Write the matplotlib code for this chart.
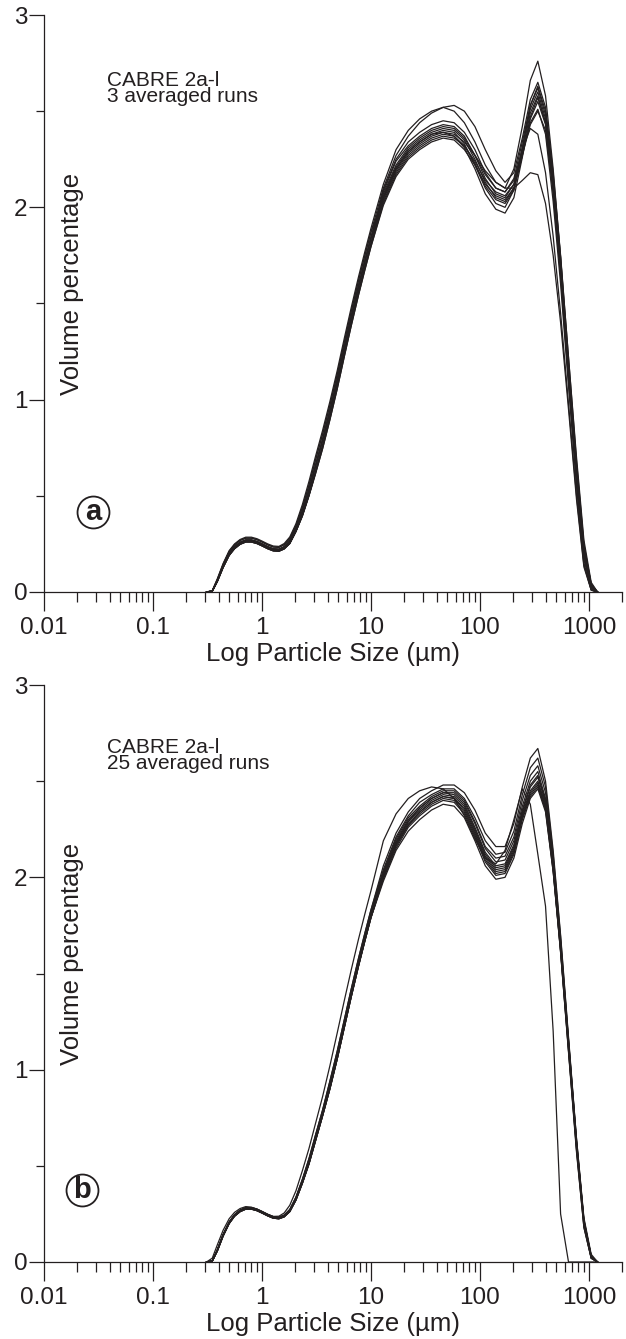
import matplotlib
matplotlib.use("Agg")
import matplotlib.pyplot as plt
from matplotlib.ticker import LogLocator, NullFormatter, FixedLocator

plt.rcParams['font.family'] = ['Liberation Sans', 'DejaVu Sans']

# particle size bins (µm)
X_UM = [0.31, 0.35, 0.39, 0.44, 0.5, 0.56, 0.63, 0.71, 0.8, 0.9, 1.0, 1.13, 1.27, 1.43,
        1.6, 1.8, 2.05, 2.35, 2.7, 3.1, 3.6, 4.2, 4.9, 5.7, 6.6, 7.7, 8.8, 10,
        13, 17, 22, 28, 36, 46, 58, 72, 90, 112, 140, 170, 205, 245, 290, 340, 400,
        470, 550, 650, 770, 900, 1050, 1200]

# panel a: CABRE 2a-l, 3 averaged runs (volume %)
A01 = [0.0, 0.006, 0.065, 0.143, 0.21, 0.245, 0.268, 0.28, 0.28, 0.272, 0.26, 0.245, 0.234, 0.232, 0.246, 0.278, 0.345, 0.44, 0.555, 0.685, 0.82, 0.97, 1.13, 1.30, 1.46, 1.62, 1.75, 1.87,
       2.10, 2.27, 2.37, 2.44, 2.49, 2.52, 2.53, 2.50, 2.42, 2.30, 2.19, 2.13, 2.18, 2.36, 2.56, 2.65, 2.52, 2.18, 1.75, 1.22, 0.68, 0.25, 0.04, 0.0]
A02 = [0.0, 0.007, 0.07, 0.148, 0.215, 0.25, 0.273, 0.285, 0.285, 0.277, 0.265, 0.25, 0.239, 0.237, 0.252, 0.286, 0.355, 0.455, 0.575, 0.705, 0.84, 0.99, 1.15, 1.32, 1.48, 1.64, 1.77, 1.89,
       2.12, 2.30, 2.40, 2.46, 2.50, 2.52, 2.50, 2.44, 2.34, 2.22, 2.13, 2.10, 2.20, 2.42, 2.66, 2.76, 2.58, 2.20, 1.74, 1.18, 0.62, 0.20, 0.02, 0.0]
A03 = [0.0, 0.005, 0.06, 0.135, 0.20, 0.235, 0.258, 0.27, 0.27, 0.262, 0.25, 0.235, 0.224, 0.222, 0.235, 0.265, 0.33, 0.42, 0.53, 0.655, 0.79, 0.94, 1.10, 1.27, 1.43, 1.59, 1.72, 1.84,
       2.09, 2.25, 2.34, 2.39, 2.43, 2.45, 2.44, 2.39, 2.30, 2.18, 2.10, 2.08, 2.15, 2.34, 2.53, 2.62, 2.48, 2.13, 1.70, 1.17, 0.64, 0.22, 0.03, 0.0]
A04 = [0.0, 0.004, 0.055, 0.127, 0.19, 0.225, 0.248, 0.26, 0.26, 0.252, 0.24, 0.225, 0.214, 0.212, 0.224, 0.252, 0.315, 0.40, 0.505, 0.625, 0.76, 0.91, 1.07, 1.24, 1.40, 1.56, 1.69, 1.81,
       2.08, 2.24, 2.32, 2.37, 2.41, 2.43, 2.42, 2.37, 2.27, 2.15, 2.07, 2.05, 2.12, 2.31, 2.51, 2.60, 2.46, 2.11, 1.68, 1.15, 0.62, 0.20, 0.02, 0.0]
A05 = [0.0, 0.005, 0.06, 0.135, 0.20, 0.235, 0.258, 0.27, 0.27, 0.262, 0.25, 0.235, 0.224, 0.222, 0.235, 0.265, 0.33, 0.42, 0.53, 0.655, 0.79, 0.94, 1.10, 1.27, 1.43, 1.59, 1.72, 1.84,
       2.06, 2.21, 2.30, 2.35, 2.39, 2.41, 2.40, 2.35, 2.25, 2.13, 2.05, 2.03, 2.10, 2.29, 2.49, 2.58, 2.44, 2.08, 1.64, 1.10, 0.57, 0.17, 0.02, 0.0]
A06 = [0.0, 0.004, 0.055, 0.127, 0.19, 0.225, 0.248, 0.26, 0.26, 0.252, 0.24, 0.225, 0.214, 0.212, 0.224, 0.252, 0.315, 0.40, 0.505, 0.625, 0.76, 0.91, 1.07, 1.24, 1.40, 1.56, 1.69, 1.81,
       2.05, 2.20, 2.29, 2.34, 2.38, 2.40, 2.39, 2.33, 2.22, 2.10, 2.02, 2.00, 2.09, 2.31, 2.53, 2.63, 2.50, 2.16, 1.74, 1.22, 0.70, 0.27, 0.05, 0.0]
A07 = [0.0, 0.005, 0.06, 0.135, 0.20, 0.235, 0.258, 0.27, 0.27, 0.262, 0.25, 0.235, 0.224, 0.222, 0.235, 0.265, 0.33, 0.42, 0.53, 0.655, 0.79, 0.94, 1.10, 1.27, 1.43, 1.59, 1.72, 1.84,
       2.04, 2.19, 2.28, 2.33, 2.37, 2.39, 2.37, 2.31, 2.20, 2.07, 1.99, 1.97, 2.05, 2.26, 2.47, 2.57, 2.44, 2.09, 1.66, 1.13, 0.60, 0.19, 0.02, 0.0]
A08 = [0.0, 0.004, 0.055, 0.127, 0.19, 0.225, 0.248, 0.26, 0.26, 0.252, 0.24, 0.225, 0.214, 0.212, 0.224, 0.252, 0.315, 0.40, 0.505, 0.625, 0.76, 0.91, 1.07, 1.24, 1.40, 1.56, 1.69, 1.81,
       2.03, 2.18, 2.27, 2.32, 2.36, 2.38, 2.37, 2.32, 2.23, 2.11, 2.04, 2.02, 2.09, 2.27, 2.46, 2.55, 2.43, 2.10, 1.69, 1.18, 0.66, 0.24, 0.04, 0.0]
A09 = [0.0, 0.004, 0.057, 0.13, 0.195, 0.23, 0.253, 0.265, 0.265, 0.257, 0.245, 0.23, 0.219, 0.217, 0.228, 0.255, 0.315, 0.395, 0.50, 0.615, 0.745, 0.895, 1.055, 1.225, 1.385, 1.545, 1.675, 1.795,
       2.02, 2.17, 2.26, 2.31, 2.35, 2.37, 2.36, 2.32, 2.24, 2.14, 2.08, 2.06, 2.12, 2.28, 2.44, 2.51, 2.38, 2.03, 1.60, 1.07, 0.55, 0.15, 0.01, 0.0]
A10 = [0.0, 0.004, 0.057, 0.13, 0.195, 0.23, 0.253, 0.265, 0.265, 0.257, 0.245, 0.23, 0.219, 0.217, 0.228, 0.255, 0.315, 0.395, 0.50, 0.615, 0.745, 0.895, 1.055, 1.225, 1.385, 1.545, 1.675, 1.795,
       2.01, 2.16, 2.25, 2.30, 2.34, 2.36, 2.35, 2.30, 2.22, 2.12, 2.06, 2.04, 2.10, 2.27, 2.43, 2.50, 2.40, 2.08, 1.68, 1.17, 0.65, 0.23, 0.04, 0.0]
A11 = [0.0, 0.005, 0.06, 0.135, 0.20, 0.235, 0.258, 0.27, 0.27, 0.262, 0.25, 0.235, 0.224, 0.222, 0.235, 0.265, 0.33, 0.42, 0.53, 0.655, 0.79, 0.94, 1.10, 1.27, 1.43, 1.59, 1.72, 1.84,
       2.07, 2.22, 2.31, 2.36, 2.40, 2.42, 2.41, 2.36, 2.27, 2.17, 2.10, 2.08, 2.14, 2.30, 2.41, 2.38, 2.18, 1.85, 1.45, 0.98, 0.50, 0.14, 0.01, 0.0]
A12 = [0.0, 0.006, 0.065, 0.143, 0.21, 0.245, 0.268, 0.28, 0.28, 0.272, 0.26, 0.245, 0.234, 0.232, 0.246, 0.278, 0.345, 0.44, 0.555, 0.685, 0.82, 0.97, 1.13, 1.30, 1.46, 1.62, 1.75, 1.87,
       2.05, 2.20, 2.29, 2.34, 2.38, 2.39, 2.38, 2.34, 2.27, 2.19, 2.13, 2.10, 2.10, 2.14, 2.18, 2.17, 2.02, 1.75, 1.40, 0.95, 0.48, 0.13, 0.01, 0.0]

# panel b: CABRE 2a-l, 25 averaged runs (volume %)
B01 = [0.0, 0.006, 0.064, 0.143, 0.208, 0.246, 0.27, 0.283, 0.283, 0.275, 0.263, 0.248, 0.236, 0.233, 0.244, 0.273, 0.337, 0.43, 0.537, 0.66, 0.79, 0.94, 1.095, 1.26, 1.42, 1.58, 1.71, 1.83,
       2.06, 2.23, 2.34, 2.41, 2.45, 2.48, 2.48, 2.44, 2.35, 2.23, 2.16, 2.16, 2.28, 2.47, 2.62, 2.67, 2.50, 2.14, 1.70, 1.17, 0.64, 0.22, 0.03, 0.0]
B02 = [0.0, 0.006, 0.064, 0.143, 0.208, 0.246, 0.27, 0.283, 0.283, 0.275, 0.263, 0.248, 0.236, 0.233, 0.244, 0.273, 0.337, 0.43, 0.537, 0.66, 0.79, 0.94, 1.095, 1.26, 1.42, 1.58, 1.71, 1.83,
       2.04, 2.21, 2.32, 2.39, 2.43, 2.46, 2.46, 2.41, 2.31, 2.19, 2.12, 2.13, 2.24, 2.43, 2.57, 2.62, 2.47, 2.12, 1.69, 1.16, 0.63, 0.21, 0.03, 0.0]
B03 = [0.0, 0.005, 0.062, 0.14, 0.205, 0.243, 0.267, 0.28, 0.28, 0.272, 0.26, 0.245, 0.233, 0.23, 0.24, 0.268, 0.33, 0.42, 0.525, 0.645, 0.775, 0.92, 1.075, 1.24, 1.40, 1.56, 1.69, 1.81,
       2.03, 2.20, 2.31, 2.37, 2.42, 2.45, 2.45, 2.40, 2.29, 2.16, 2.10, 2.11, 2.21, 2.40, 2.53, 2.58, 2.44, 2.10, 1.67, 1.15, 0.62, 0.21, 0.03, 0.0]
B04 = [0.0, 0.005, 0.062, 0.14, 0.205, 0.243, 0.267, 0.28, 0.28, 0.272, 0.26, 0.245, 0.233, 0.23, 0.24, 0.268, 0.33, 0.42, 0.525, 0.645, 0.775, 0.92, 1.075, 1.24, 1.40, 1.56, 1.69, 1.81,
       2.02, 2.19, 2.30, 2.36, 2.41, 2.44, 2.44, 2.39, 2.28, 2.15, 2.08, 2.09, 2.19, 2.37, 2.50, 2.55, 2.41, 2.07, 1.64, 1.12, 0.60, 0.20, 0.02, 0.0]
B05 = [0.0, 0.005, 0.062, 0.14, 0.205, 0.243, 0.267, 0.28, 0.28, 0.272, 0.26, 0.245, 0.233, 0.23, 0.24, 0.268, 0.33, 0.42, 0.525, 0.645, 0.775, 0.92, 1.075, 1.24, 1.40, 1.56, 1.69, 1.81,
       2.01, 2.18, 2.29, 2.36, 2.41, 2.44, 2.43, 2.38, 2.26, 2.13, 2.06, 2.07, 2.17, 2.35, 2.48, 2.53, 2.40, 2.07, 1.66, 1.15, 0.64, 0.23, 0.04, 0.0]
B06 = [0.0, 0.005, 0.062, 0.14, 0.205, 0.243, 0.267, 0.28, 0.28, 0.272, 0.26, 0.245, 0.233, 0.23, 0.24, 0.268, 0.33, 0.42, 0.525, 0.645, 0.775, 0.92, 1.075, 1.24, 1.40, 1.56, 1.69, 1.81,
       2.02, 2.18, 2.29, 2.35, 2.40, 2.43, 2.42, 2.37, 2.25, 2.12, 2.05, 2.06, 2.16, 2.34, 2.47, 2.52, 2.39, 2.05, 1.62, 1.10, 0.58, 0.18, 0.02, 0.0]
B07 = [0.0, 0.005, 0.058, 0.135, 0.20, 0.238, 0.262, 0.275, 0.275, 0.267, 0.255, 0.24, 0.228, 0.225, 0.235, 0.262, 0.322, 0.41, 0.51, 0.63, 0.76, 0.90, 1.055, 1.22, 1.38, 1.54, 1.67, 1.79,
       2.00, 2.17, 2.28, 2.34, 2.39, 2.42, 2.41, 2.36, 2.24, 2.11, 2.04, 2.05, 2.15, 2.33, 2.45, 2.50, 2.38, 2.06, 1.65, 1.14, 0.62, 0.21, 0.03, 0.0]
B08 = [0.0, 0.005, 0.062, 0.14, 0.205, 0.243, 0.267, 0.28, 0.28, 0.272, 0.26, 0.245, 0.233, 0.23, 0.24, 0.268, 0.33, 0.42, 0.525, 0.645, 0.775, 0.92, 1.075, 1.24, 1.40, 1.56, 1.69, 1.81,
       2.01, 2.17, 2.27, 2.34, 2.39, 2.42, 2.41, 2.35, 2.23, 2.10, 2.03, 2.04, 2.14, 2.32, 2.44, 2.49, 2.37, 2.04, 1.61, 1.09, 0.57, 0.18, 0.02, 0.0]
B09 = [0.0, 0.005, 0.058, 0.135, 0.20, 0.238, 0.262, 0.275, 0.275, 0.267, 0.255, 0.24, 0.228, 0.225, 0.235, 0.262, 0.322, 0.41, 0.51, 0.63, 0.76, 0.90, 1.055, 1.22, 1.38, 1.54, 1.67, 1.79,
       2.00, 2.16, 2.27, 2.33, 2.38, 2.41, 2.40, 2.34, 2.22, 2.09, 2.02, 2.03, 2.13, 2.31, 2.43, 2.48, 2.36, 2.05, 1.64, 1.13, 0.62, 0.22, 0.03, 0.0]
B10 = [0.0, 0.005, 0.058, 0.135, 0.20, 0.238, 0.262, 0.275, 0.275, 0.267, 0.255, 0.24, 0.228, 0.225, 0.235, 0.262, 0.322, 0.41, 0.51, 0.63, 0.76, 0.90, 1.055, 1.22, 1.38, 1.54, 1.67, 1.79,
       1.99, 2.15, 2.26, 2.32, 2.37, 2.40, 2.39, 2.33, 2.21, 2.08, 2.01, 2.02, 2.12, 2.30, 2.42, 2.47, 2.35, 2.03, 1.61, 1.10, 0.59, 0.19, 0.02, 0.0]
B11 = [0.0, 0.005, 0.058, 0.135, 0.20, 0.238, 0.262, 0.275, 0.275, 0.267, 0.255, 0.24, 0.228, 0.225, 0.235, 0.262, 0.322, 0.41, 0.51, 0.63, 0.76, 0.90, 1.055, 1.22, 1.38, 1.54, 1.67, 1.79,
       1.98, 2.14, 2.24, 2.30, 2.35, 2.38, 2.37, 2.31, 2.19, 2.06, 1.99, 2.00, 2.10, 2.28, 2.41, 2.46, 2.34, 2.03, 1.62, 1.12, 0.61, 0.21, 0.03, 0.0]
B12 = [0.0, 0.02, 0.09, 0.165, 0.225, 0.258, 0.278, 0.288, 0.285, 0.275, 0.262, 0.247, 0.237, 0.238, 0.255, 0.295, 0.37, 0.475, 0.59, 0.72, 0.86, 1.02, 1.19, 1.36, 1.52, 1.68, 1.81, 1.93,
       2.19, 2.33, 2.41, 2.45, 2.47, 2.46, 2.41, 2.32, 2.20, 2.10, 2.07, 2.14, 2.30, 2.46, 2.38, 2.12, 1.85, 1.20, 0.25, 0.0, 0.0, 0.0, 0.0, 0.0]

RUNS_A = [A01, A02, A03, A04, A05, A06, A07, A08, A09, A10, A11, A12]
RUNS_B = [B01, B02, B03, B04, B05, B06, B07, B08, B09, B10, B11, B12]

X_TICKS = [0.01, 0.1, 1, 10, 100, 1000]
X_TICKLABELS = ['0.01', '0.1', '1', '10', '100', '1000']
Y_TICKS = [0, 1, 2, 3]
Y_MINOR = [0.5, 1.5, 2.5]

LINE_COLOR = '#231f20'

W, H = 626, 1339
fig = plt.figure(figsize=(W / 100, H / 100), dpi=100)

def make_axes(top_px, bottom_px):
    left = 44 / W
    width = 577.7 / W
    return fig.add_axes([left, 1 - bottom_px / H, width, (bottom_px - top_px) / H])

panels = [
    (make_axes(15, 592), RUNS_A, 'CABRE 2a-l\n3 averaged runs', 0.903, 'a', (0.0848, 0.138)),
    (make_axes(685, 1262), RUNS_B, 'CABRE 2a-l\n25 averaged runs', 0.908, 'b', (0.0658, 0.125)),
]

for ax, runs, note, note_y, letter, lpos in panels:
    for r in runs:
        ax.plot(X_UM, r, color=LINE_COLOR, lw=0.9, solid_joinstyle='round')
    ax.set_xscale('log')
    ax.set_xlim(0.01, 2000)
    ax.set_ylim(0, 3)
    for s in ('top', 'right'):
        ax.spines[s].set_visible(False)
    for s in ('left', 'bottom'):
        ax.spines[s].set_linewidth(0.9)
        ax.spines[s].set_color(LINE_COLOR)
    ax.set_xticks(X_TICKS)
    ax.set_xticklabels(X_TICKLABELS)
    ax.xaxis.set_minor_locator(LogLocator(base=10, subs=[2, 3, 4, 5, 6, 7, 8, 9], numticks=20))
    ax.xaxis.set_minor_formatter(NullFormatter())
    ax.set_yticks(Y_TICKS)
    ax.set_yticklabels([str(v) for v in Y_TICKS])
    ax.yaxis.set_minor_locator(FixedLocator(Y_MINOR))
    ax.tick_params(axis='x', which='major', direction='out', length=14, width=0.9,
                   labelsize=17.5, pad=4, colors=LINE_COLOR)
    ax.tick_params(axis='x', which='minor', direction='out', length=7, width=0.9, colors=LINE_COLOR)
    ax.tick_params(axis='y', which='major', direction='out', length=11, width=0.9,
                   labelsize=17.5, pad=1, colors=LINE_COLOR)
    ax.tick_params(axis='y', which='minor', direction='out', length=6, width=0.9, colors=LINE_COLOR)
    ax.set_xlabel('Log Particle Size (µm)', fontsize=18.5, labelpad=2, color=LINE_COLOR)
    ax.text(0.048, 0.534, 'Volume percentage', rotation=90, transform=ax.transAxes,
            ha='center', va='center', fontsize=18.5, color=LINE_COLOR)
    ax.text(0.109, note_y, note, transform=ax.transAxes, ha='left', va='top',
            fontsize=15, linespacing=0.82, color=LINE_COLOR)
    ax.plot([lpos[0]], [lpos[1]], 'o', transform=ax.transAxes, ms=23, mfc='none',
            mec=LINE_COLOR, mew=1.3, clip_on=False)
    ax.text(lpos[0], lpos[1], letter, transform=ax.transAxes, ha='center', va='center',
            fontsize=21, fontweight='bold', color=LINE_COLOR)

fig.savefig('out.png', dpi=100)
